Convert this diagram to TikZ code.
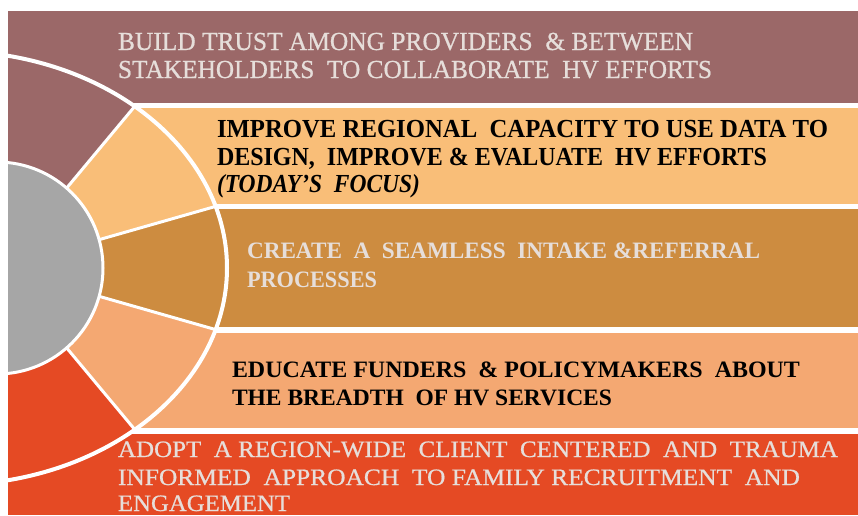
\documentclass[tikz,border=0pt]{standalone}
\usepackage{fontspec}
\setmainfont{Liberation Serif}
\newfontfamily\mediumserif[FakeBold=0.7]{Liberation Serif}
\usetikzlibrary{calc}

\definecolor{mauve}{HTML}{9B6868}
\definecolor{lightorange}{HTML}{F9BE78}
\definecolor{goldband}{HTML}{CD8C40}
\definecolor{salmon}{HTML}{F4A872}
\definecolor{redband}{HTML}{E54A24}
\definecolor{hubgray}{HTML}{A6A6A6}
\definecolor{paletext}{HTML}{E6DEDA}

% stretch a line of text horizontally to a given width, keeping its height
\newcommand{\fitto}[2]{\resizebox{#1pt}{\height}{#2}}

\begin{document}
\begin{tikzpicture}[x=1pt, y=-1pt,
  lbl/.style={anchor=base west, inner sep=0pt, outer sep=0pt},
  bigtype/.style={font=\fontsize{26}{28}\selectfont},
  smalltype/.style={font=\fontsize{23.5}{28}\selectfont},
  darktext/.style={text=black},
  pale/.style={text=paletext},
  divider/.style={draw=white, line width=3pt},
  rim/.style={draw=white, line width=4pt}]

\useasboundingbox (0,0) rectangle (858,515);
\clip (0,0) rectangle (858,515);

% horizontal bands
\fill[mauve]       (8,11)  rectangle (858,103);
\fill[lightorange] (8,108) rectangle (858,204);
\fill[goldband]    (8,209) rectangle (858,327);
\fill[salmon]      (8,333) rectangle (858,428);
\fill[redband]     (8,434) rectangle (858,515);

% the fan of five sectors inside the outer arc
\coordinate (C)  at (0,268);
\coordinate (P1) at (135,106);
\coordinate (P2) at (217,206);
\coordinate (P3) at (217,330);
\coordinate (P4) at (136,431);
\coordinate (up)   at (0,-1500);
\coordinate (left) at (-1500,268);

\begin{scope}
  \clip (8,0) rectangle (858,515);
  \begin{scope}
    \clip (-50,268) ellipse [x radius=277, y radius=217];
    \fill[redband] (-100,0) rectangle (400,600);
    \fill[salmon]      (C) -- ($(C)!6!(P4)$) -- (up) -- (left) -- cycle;
    \fill[goldband]    (C) -- ($(C)!6!(P3)$) -- (up) -- (left) -- cycle;
    \fill[lightorange] (C) -- ($(C)!6!(P2)$) -- (up) -- (left) -- cycle;
    \fill[mauve]       (C) -- ($(C)!6!(P1)$) -- (up) -- (left) -- cycle;
    \draw[divider] (C) -- (P1);
    \draw[divider] (C) -- (P2);
    \draw[divider] (C) -- (P3);
    \draw[divider] (C) -- (P4);
  \end{scope}
  \draw[rim] (-50,268) ellipse [x radius=277, y radius=217];
  \filldraw[fill=hubgray, draw=white, line width=3pt] (-3,268) circle [radius=106];
\end{scope}

% band texts
\node[lbl, bigtype, pale] (b1a) at (118,50)
  {\fitto{575}{\mediumserif BUILD TRUST AMONG PROVIDERS\ \ \&\ BETWEEN}};
\node[lbl, bigtype, pale] (b1b) at (118,78)
  {\fitto{594}{\mediumserif STAKEHOLDERS\ \ TO COLLABORATE\ \ HV EFFORTS}};

\node[lbl, bigtype, darktext] (b2a) at (217,137)
  {\fitto{611}{\bfseries IMPROVE REGIONAL\ \ CAPACITY TO USE DATA TO}};
\node[lbl, bigtype, darktext] (b2b) at (217,165)
  {\fitto{550}{\bfseries DESIGN,\ \ IMPROVE \& EVALUATE\ \ HV EFFORTS}};
\node[lbl, bigtype, darktext] (b2c) at (217,192)
  {\fitto{203}{\bfseries\itshape (TODAY’S\ \ FOCUS)}};

\node[lbl, smalltype, pale] (b3a) at (247,258)
  {\fitto{513}{\bfseries CREATE\ \ A\ \ SEAMLESS\ \ INTAKE \&REFERRAL}};
\node[lbl, smalltype, pale] (b3b) at (247,287)
  {\fitto{130}{\bfseries PROCESSES}};

\node[lbl, smalltype, darktext] (b4a) at (232,377)
  {\fitto{568}{\bfseries EDUCATE FUNDERS\ \ \& POLICYMAKERS\ \ ABOUT}};
\node[lbl, smalltype, darktext] (b4b) at (232,405)
  {\fitto{380}{\bfseries THE BREADTH\ \ OF HV SERVICES}};

\node[lbl, smalltype, pale] (b5a) at (118,457)
  {\fitto{720}{\mediumserif ADOPT\ \ A REGION-WIDE\ \ CLIENT\ \ CENTERED\ \ AND\ \ TRAUMA}};
\node[lbl, smalltype, pale] (b5b) at (118,485)
  {\fitto{682}{\mediumserif INFORMED\ \ APPROACH\ \ TO FAMILY RECRUITMENT\ \ AND}};
\node[lbl, smalltype, pale] (b5c) at (118,511)
  {\fitto{172}{\mediumserif ENGAGEMENT}};

\end{tikzpicture}
\end{document}
